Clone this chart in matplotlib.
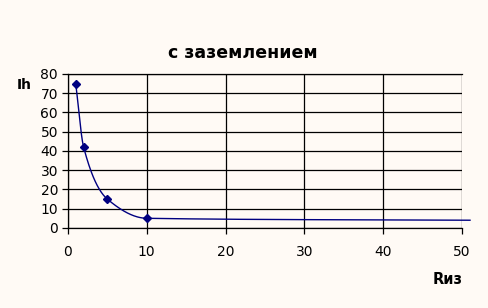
import numpy as np
import matplotlib
matplotlib.use("Agg")
import matplotlib.pyplot as plt

# Data
r_iz = [1, 2, 5, 10, 51]
i_h = [75, 42, 15, 5, 4]
x_ticks = [0, 10, 20, 30, 40, 50]
y_ticks = [0, 10, 20, 30, 40, 50, 60, 70, 80]
title = "с заземлением"
x_label = "Rиз"
y_label = "Ih"

plt.rcParams['font.family'] = ['DejaVu Sans']

def pchip(xs, ys, n=60):
    x = np.asarray(xs, float); y = np.asarray(ys, float)
    h = np.diff(x); d = np.diff(y) / h
    m = np.zeros_like(x)
    for k in range(1, len(x) - 1):
        if d[k-1] * d[k] > 0:
            w1 = 2*h[k] + h[k-1]; w2 = h[k] + 2*h[k-1]
            m[k] = (w1 + w2) / (w1/d[k-1] + w2/d[k])
    m[0] = d[0]; m[-1] = d[-1]
    ox, oy = [], []
    for k in range(len(x) - 1):
        t = np.linspace(0, 1, n)
        h00 = 2*t**3 - 3*t**2 + 1; h10 = t**3 - 2*t**2 + t
        h01 = -2*t**3 + 3*t**2; h11 = t**3 - t**2
        ox.extend(x[k] + t*h[k])
        oy.extend(h00*y[k] + h10*h[k]*m[k] + h01*y[k+1] + h11*h[k]*m[k+1])
    return np.array(ox), np.array(oy)

bg = '#FFFAF5'
fig = plt.figure(figsize=(4.88, 3.08), dpi=100, facecolor=bg)
ax = fig.add_axes([0.139, 0.260, 0.808, 0.500])
ax.set_facecolor(bg)

sx, sy = pchip(r_iz, i_h)
ax.plot(sx, sy, color='#000080', lw=1.0, clip_on=False, zorder=3)
ax.plot(r_iz[:-1], i_h[:-1], linestyle='none', marker='D', ms=4, color='#000080', zorder=4)

ax.set_xlim(0, 50)
ax.set_ylim(0, 80)
ax.set_xticks(x_ticks)
ax.set_yticks(y_ticks)
ax.grid(True, color='black', lw=0.9)
ax.spines['right'].set_visible(False)
for s in ['left', 'bottom', 'top']:
    ax.spines[s].set_color('black')
    ax.spines[s].set_linewidth(0.9)
ax.tick_params(axis='both', direction='out', length=4, width=0.9, labelsize=10, colors='black')
ax.tick_params(axis='x', pad=8)
ax.tick_params(axis='y', pad=3)

fig.text(0.498, 0.828, title, ha='center', va='center', fontsize=12.5, fontweight='bold')
fig.text(0.035, 0.724, y_label, ha='left', va='center', fontsize=10, fontweight='bold')
fig.text(0.918, 0.091, x_label, ha='center', va='center', fontsize=10.5, fontweight='bold')

fig.savefig('out.png', dpi=100, facecolor=bg)
